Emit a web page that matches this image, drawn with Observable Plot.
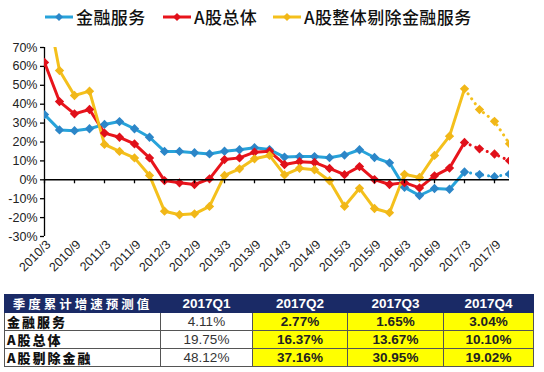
<!DOCTYPE html>
<html>
<head>
<meta charset="utf-8">
<script src="https://cdn.jsdelivr.net/npm/d3@7"></script>
<script src="https://cdn.jsdelivr.net/npm/@observablehq/plot@0.6"></script>
<style>
  html, body { margin: 0; padding: 0; background: #fff; }
  body { width: 544px; height: 372px; position: relative; overflow: hidden; font-family: "Liberation Sans", Arial, sans-serif; }
  #legend { position: absolute; left: 0; top: 0; width: 544px; height: 36px; }
  .lg { position: absolute; top: 5px; height: 24px; display: flex; align-items: center; }
  .lg span { font-family: "Noto Sans CJK SC", sans-serif; font-size: 17px; font-weight: 500; color: #111; margin-left: 3px; letter-spacing: 0.4px; line-height: 24px; }
  #chart { position: absolute; left: 0; top: 36px; }
  table { position: absolute; left: 4px; top: 294px; border-collapse: collapse; table-layout: fixed; width: 529px; }
  td, th { padding: 0; border: 1px solid #555; font-size: 13.5px; text-align: center; height: 17px; line-height: 17px; overflow: hidden; white-space: nowrap; }
  th { background: #1a2a66; color: #fff; font-weight: bold; border-color: #1a2a66; }
  th.first { font-family: "Noto Sans CJK SC", sans-serif; letter-spacing: 3px; font-size: 12.5px; }
  td.name { text-align: left; padding-left: 2px; font-family: "Noto Sans CJK SC", sans-serif; font-weight: 900; font-size: 13px; letter-spacing: 2px; color: #111; }
  td.q1 { color: #333; }
  td.fc { background: #ffff00; font-weight: bold; color: #222; }
</style>
</head>
<body>
<div id="legend"></div>
<div id="chart"></div>
<table id="tbl"></table>
<script>
// ---- data ----
const quarters = ["2010/3","2010/6","2010/9","2010/12","2011/3","2011/6","2011/9","2011/12",
  "2012/3","2012/6","2012/9","2012/12","2013/3","2013/6","2013/9","2013/12",
  "2014/3","2014/6","2014/9","2014/12","2015/3","2015/6","2015/9","2015/12",
  "2016/3","2016/6","2016/9","2016/12","2017/3","2017/6","2017/9","2017/12"];
const seriesNames = ["金融服务", "A股总体", "A股整体剔除金融服务"];
const finance = [34.5, 26.4, 26.0, 27.0, 29.3, 30.8, 27.0, 22.5, 15.0, 15.0, 14.3, 13.7, 15.1, 15.9, 17.0, 16.0,
  12.0, 12.3, 12.3, 11.7, 13.1, 15.9, 11.8, 9.0, -4.0, -8.3, -4.6, -5.0, 4.11, 2.77, 1.65, 3.04];
const total = [62.1, 41.4, 34.9, 37.2, 24.7, 22.5, 19.0, 11.6, -0.4, -1.6, -2.5, 0.5, 10.7, 11.6, 14.6, 15.1,
  8.1, 9.6, 9.2, 6.0, 2.7, 7.0, 0.1, -2.5, -1.5, -4.3, 2.1, 6.2, 19.75, 16.37, 13.67, 10.10];
const exFinance = [99.0, 57.8, 44.6, 46.9, 18.7, 15.0, 11.6, 2.3, -16.6, -18.5, -18.0, -14.1, 2.3, 5.8, 11.1, 12.9,
  2.6, 6.1, 5.3, -0.5, -14.0, -4.5, -15.2, -17.4, 2.9, 1.2, 12.9, 23.1, 48.12, 37.16, 30.95, 19.02];
const forecastStart = 28; // 2017/3 onwards is forecast
const yTicks = [-30, -20, -10, 0, 10, 20, 30, 40, 50, 60, 70];
const tableHeader = ["季度累计增速预测值", "2017Q1", "2017Q2", "2017Q3", "2017Q4"];
const tableRows = ["金融服务", "A股总体", "A股剔除金融"];
const tableValues = [["4.11%", "2.77%", "1.65%", "3.04%"],
                     ["19.75%", "16.37%", "13.67%", "10.10%"],
                     ["48.12%", "37.16%", "30.95%", "19.02%"]];
const colors = ["#27a3da", "#e8141b", "#f4c01c"];
const markerColors = ["#2c86c8", "#e0101a", "#f1b718"];

// ---- build rows ----
const allSeries = [finance, total, exFinance];
const rows = [];
allSeries.forEach((vals, s) => vals.forEach((v, i) => rows.push({s: seriesNames[s], i, v})));
const actual = rows.filter(d => d.i <= forecastStart);
const forecast = rows.filter(d => d.i >= forecastStart);
const labelIdx = quarters.map((q, i) => i).filter(i => i % 2 === 0);

const chart = Plot.plot({
  width: 544, height: 256,
  marginLeft: 44, marginRight: 35, marginTop: 11, marginBottom: 56,
  x: {type: "linear", domain: [0, quarters.length - 1], axis: null, label: null},
  y: {domain: [-30, 70], axis: null, label: null},
  color: {domain: seriesNames, range: colors},
  style: {fontFamily: "'Liberation Sans', Arial, sans-serif", fontSize: "12px", color: "#222", background: "transparent"},
  marks: [
    Plot.axisY({ticks: yTicks, tickFormat: d => d + "%", tickSize: 4, tickPadding: 3, anchor: "left", fontSize: 12.5, stroke: "#000", strokeWidth: 1.3, label: null}),
    Plot.ruleX([0], {y1: -30, y2: 70, stroke: "#000", strokeWidth: 1.3}),
    Plot.axisX({ticks: labelIdx, tickFormat: i => quarters[i], tickSize: 0, tickPadding: 6, tickRotate: -45, anchor: "bottom", fontSize: 12.5, dx: 4, label: null}),
    Plot.line(actual, {x: "i", y: "v", z: "s", stroke: "s", strokeWidth: 3, strokeLinejoin: "round", clip: true}),
    Plot.line(forecast, {x: "i", y: "v", z: "s", stroke: "s", strokeWidth: 3, strokeDasharray: "0.1 6", strokeLinecap: "round", clip: true}),
    Plot.dot(rows, {x: "i", y: "v", fill: d => markerColors[seriesNames.indexOf(d.s)], symbol: "diamond2", r: 4.2, clip: true}),
    Plot.ruleY([0], {x1: 0, x2: quarters.length - 1, stroke: "#000", strokeWidth: 1.5}),
    Plot.ruleX(labelIdx, {x: d => d, y1: 0, y2: -2.1, stroke: "#000", strokeWidth: 1.3})
  ]
});
document.getElementById("chart").appendChild(chart);

// ---- legend ----
const legend = document.getElementById("legend");
const legendX = [45, 163, 273];
seriesNames.forEach((name, k) => {
  const item = document.createElement("div");
  item.className = "lg";
  item.style.left = legendX[k] + "px";
  item.innerHTML = `<svg width="28" height="10"><line x1="0" y1="5" x2="28" y2="5" stroke="${colors[k]}" stroke-width="3"/>
    <path d="M14 1 L18 5 L14 9 L10 5 Z" fill="${markerColors[k]}"/></svg><span>${name}</span>`;
  legend.appendChild(item);
});

// ---- table ----
const tbl = document.getElementById("tbl");
const widths = [156, 92, 95, 96, 90];
const cg = document.createElement("colgroup");
widths.forEach(w => { const c = document.createElement("col"); c.style.width = w + "px"; cg.appendChild(c); });
tbl.appendChild(cg);
const hr = document.createElement("tr");
tableHeader.forEach((h, j) => { const th = document.createElement("th"); th.textContent = h; if (j === 0) th.className = "first"; hr.appendChild(th); });
tbl.appendChild(hr);
tableRows.forEach((r, k) => {
  const tr = document.createElement("tr");
  const td0 = document.createElement("td"); td0.className = "name"; td0.textContent = r; tr.appendChild(td0);
  tableValues[k].forEach((v, j) => { const td = document.createElement("td"); td.textContent = v; td.className = j === 0 ? "q1" : "fc"; tr.appendChild(td); });
  tbl.appendChild(tr);
});
</script>
</body>
</html>
